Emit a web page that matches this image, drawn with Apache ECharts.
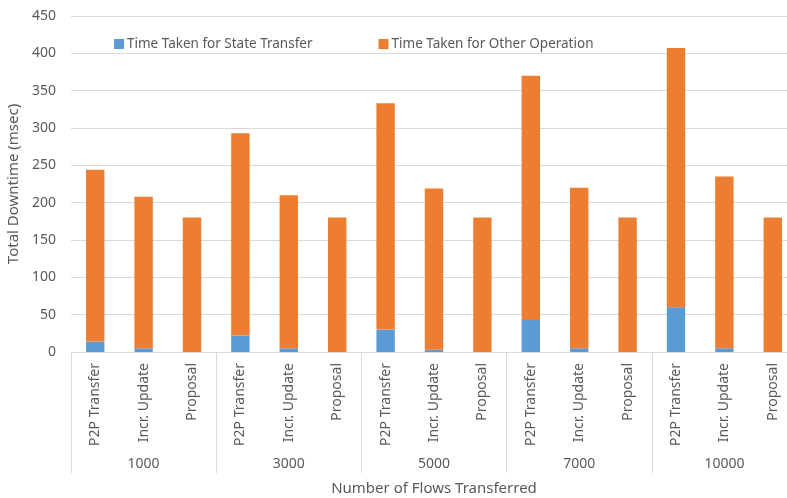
<!DOCTYPE html>
<html>
<head>
<meta charset="utf-8">
<script src="https://cdn.jsdelivr.net/npm/echarts@6/dist/echarts.min.js"></script>
<style>html,body{margin:0;padding:0;background:#fff}#c{width:787px;height:498px}</style>
</head>
<body>
<div id="c"></div>
<script>
var groups = ['1000', '3000', '5000', '7000', '10000'];
var methods = ['P2P Transfer', 'Incr. Update', 'Proposal'];
var categories = [];
groups.forEach(function (g) { methods.forEach(function (m) { categories.push(m); }); });
var stateTransfer = [14, 5, 0, 22, 5, 0, 30, 3, 0, 43, 5, 0, 60, 5, 0];
var totalDowntime = [244, 208, 180, 293, 210, 180, 333, 219, 180, 370, 220, 180, 407, 235, 180];
var otherOperation = totalDowntime.map(function (t, i) { return t - stateTransfer[i]; });
var yTicks = { min: 0, max: 450, interval: 50 };

var font = 'Noto Sans';
var txt = '#595959';
var chart = echarts.init(document.getElementById('c'));
chart.setOption({
  animation: false,
  color: ['#5B9BD5', '#ED7D31'],
  textStyle: { fontFamily: font },
  legend: {
    left: 109, top: 32, itemWidth: 10, itemHeight: 10, itemGap: 66,
    icon: 'rect',
    textStyle: { color: txt, fontSize: 13.5, fontFamily: font, padding: [0, 0, 0, -2] },
    data: ['Time Taken for State Transfer', 'Time Taken for Other Operation']
  },
  grid: { left: 71, width: 726, top: 16, height: 336, containLabel: false, outerBoundsMode: 'none' },
  xAxis: [
    {
      type: 'category', data: categories, position: 'bottom',
      axisLine: { show: true, lineStyle: { color: '#d9d9d9' } },
      axisTick: { show: false },
      axisLabel: { rotate: 90, interval: 0, margin: 11, color: txt, fontSize: 14, fontFamily: font }
    },
    {
      type: 'category', data: groups, position: 'bottom', offset: 0,
      axisLine: { show: false },
      axisTick: { show: true, length: 121, interval: 0, lineStyle: { color: '#d9d9d9' } },
      axisLabel: { interval: 0, margin: 105, color: txt, fontSize: 14, fontFamily: font },
      name: 'Number of Flows Transferred', nameLocation: 'middle', nameGap: 129,
      nameTextStyle: { color: txt, fontSize: 15, fontFamily: font }
    }
  ],
  yAxis: {
    type: 'value', min: yTicks.min, max: yTicks.max, interval: yTicks.interval,
    axisLine: { show: false }, axisTick: { show: false },
    splitLine: { lineStyle: { color: '#d9d9d9' } },
    axisLabel: { color: txt, fontSize: 14, margin: 15, fontFamily: font },
    name: 'Total Downtime (msec)', nameLocation: 'middle', nameGap: 46,
    nameTextStyle: { color: txt, fontSize: 15, fontFamily: font }
  },
  series: [
    { name: 'Time Taken for State Transfer', type: 'bar', stack: 't', xAxisIndex: 0, data: stateTransfer, barWidth: '38%' },
    { name: 'Time Taken for Other Operation', type: 'bar', stack: 't', xAxisIndex: 0, data: otherOperation, barWidth: '38%' }
  ]
});
</script>
</body>
</html>
